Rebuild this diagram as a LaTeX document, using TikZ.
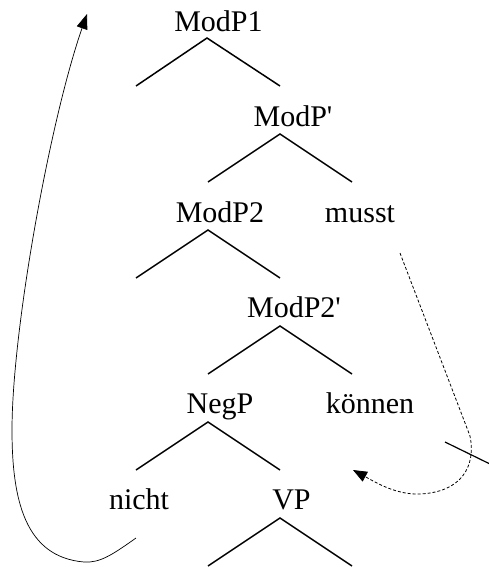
\documentclass[tikz,border=0pt]{standalone}
\usepackage{fontspec}
\setmainfont{Liberation Serif}
\usetikzlibrary{arrows.meta}
\tikzset{
  lbl/.style={anchor=base, inner sep=0pt, font=\fontsize{30}{36}\selectfont},
  branch/.style={line width=1.5pt},
  movearrow/.style={line width=0.7pt, -{Triangle[length=15pt,width=11pt]}},
  dasharrow/.style={line width=0.8pt, dash pattern=on 3pt off 2pt, -{Triangle[length=14pt,width=11pt]}},
  crossline/.style={line width=1.2pt}
}
\begin{document}
\begin{tikzpicture}[x=1pt,y=-1pt]
\useasboundingbox (0,0) rectangle (488,567);
% labels
\node[lbl] (modp1) at (218.5,32) {ModP1};
\node[lbl] (modpbar) at (293,126) {ModP\textquotesingle};
\node[lbl] (modp2) at (220,222) {ModP2};
\node[lbl] (musst) at (360,222) {musst};
\node[lbl] (modp2bar) at (294,317) {ModP2\textquotesingle};
\node[lbl] (negp) at (220,413) {NegP};
\node[lbl] (koennen) at (370,413) {können};
\node[lbl] (nicht) at (139,509) {nicht};
\node[lbl] (vp) at (291.5,509) {VP};
% apex and leaf coordinates
\coordinate (a0) at (207,38);  \coordinate (l0) at (136,86);  \coordinate (r0) at (280,86);
\coordinate (a1) at (280,134); \coordinate (l1) at (208,182); \coordinate (r1) at (352,182);
\coordinate (a2) at (208,230); \coordinate (l2) at (136,278); \coordinate (r2) at (280,278);
\coordinate (a3) at (280,326); \coordinate (l3) at (208,374); \coordinate (r3) at (352,374);
\coordinate (a4) at (208,422); \coordinate (l4) at (136,470); \coordinate (r4) at (280,470);
\coordinate (a5) at (280,518); \coordinate (l5) at (208,566); \coordinate (r5) at (352,566);
\foreach \i in {0,...,5}{
  \draw[branch] (l\i) -- (a\i) -- (r\i);
}
% long movement arrow on the left
\coordinate (ls) at (136,538);
\coordinate (lb) at (84,562);
\coordinate (lm) at (12,430);
\coordinate (lt) at (87,14);
\draw[movearrow] (ls) .. controls (112,555) and (100,563) .. (lb)
  .. controls (25,557) and (12,500) .. (lm)
  .. controls (12,330) and (50,120) .. (lt);
% dashed movement arrow on the right
\coordinate (ds) at (400,253);
\coordinate (dm) at (470,436);
\coordinate (db) at (420,494);
\coordinate (dt) at (353,470);
\draw[dasharrow] (ds) -- (dm) .. controls (476,466) and (462,492) .. (db)
  .. controls (396,495) and (375,482) .. (dt);
% crossing stroke
\coordinate (cs) at (445,442);
\coordinate (ce) at (490,464);
\draw[crossline] (cs) -- (ce);
\end{tikzpicture}
\end{document}
